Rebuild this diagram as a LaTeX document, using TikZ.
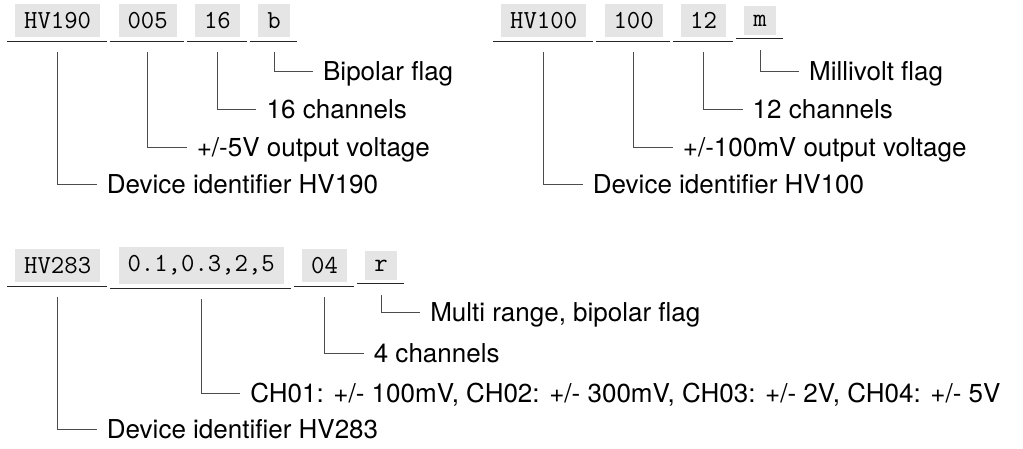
\documentclass[tikz,border=0pt]{standalone}
\usepackage{fontspec}
\setmainfont{TeX Gyre Heros}
\usetikzlibrary{positioning}

\begin{document}
\begin{tikzpicture}[x=1pt, y=1pt, node distance=18pt,
  field/.style={fill=black!10, inner xsep=9pt, inner ysep=8.5pt, font=\fontsize{26}{30}\ttfamily},
  desc/.style={anchor=west, inner xsep=10pt, inner ysep=0pt, text height=18.6pt, text depth=0pt, font=\fontsize{26}{30}\selectfont},
  lead/.style={draw=black!70, line width=0.8pt}]
  \useasboundingbox (0,0) rectangle (1023,-448);

  % HV190 row
  \node[field, anchor=west] (a1) at (15,-20.5) {HV190};
  \node[field, right=of a1] (a2) {005};
  \node[field, right=of a2] (a3) {16};
  \node[field, right=of a3] (a4) {b};

  % HV100 row
  \node[field, anchor=west] (b1) at (501,-20.5) {HV100};
  \node[field, right=of b1] (b2) {100};
  \node[field, right=of b2] (b3) {12};
  \node[field, right=of b3] (b4) {m};

  % HV283 row
  \node[field, anchor=west] (c1) at (15,-265.5) {HV283};
  \node[field, right=of c1] (c2) {0.1,0.3,2,5};
  \node[field, right=of c2] (c3) {04};
  \node[field, right=of c3] (c4) {r};

  \foreach \n in {a1,a2,a3,a4,b1,b2,b3,b4,c1,c2,c3,c4}
    \draw[line width=1pt, black!85] ([xshift=-8pt,yshift=-4pt]\n.south west) -- ([xshift=7pt,yshift=-4pt]\n.south east);

  \foreach \n/\y/\t in {a4/71/{Bipolar flag}, a3/109/{16 channels},
      a2/147/{+/-5V output voltage}, a1/184/{Device identifier HV190},
      b4/71/{Millivolt flag}, b3/109/{12 channels},
      b2/147/{+/-100mV output voltage}, b1/184/{Device identifier HV100},
      c4/312/{Multi range, bipolar flag}, c3/353/{4 channels},
      c2/393/{CH01: +/- 100mV, CH02: +/- 300mV, CH03: +/- 2V, CH04: +/- 5V},
      c1/429/{Device identifier HV283}} {
    \node[desc] (l-\n) at ([xshift=39pt]\n.south |- 0,-\y) {\t};
    \draw[lead] ([yshift=-15pt]\n.south) |- (l-\n.west);
  }
\end{tikzpicture}
\end{document}
